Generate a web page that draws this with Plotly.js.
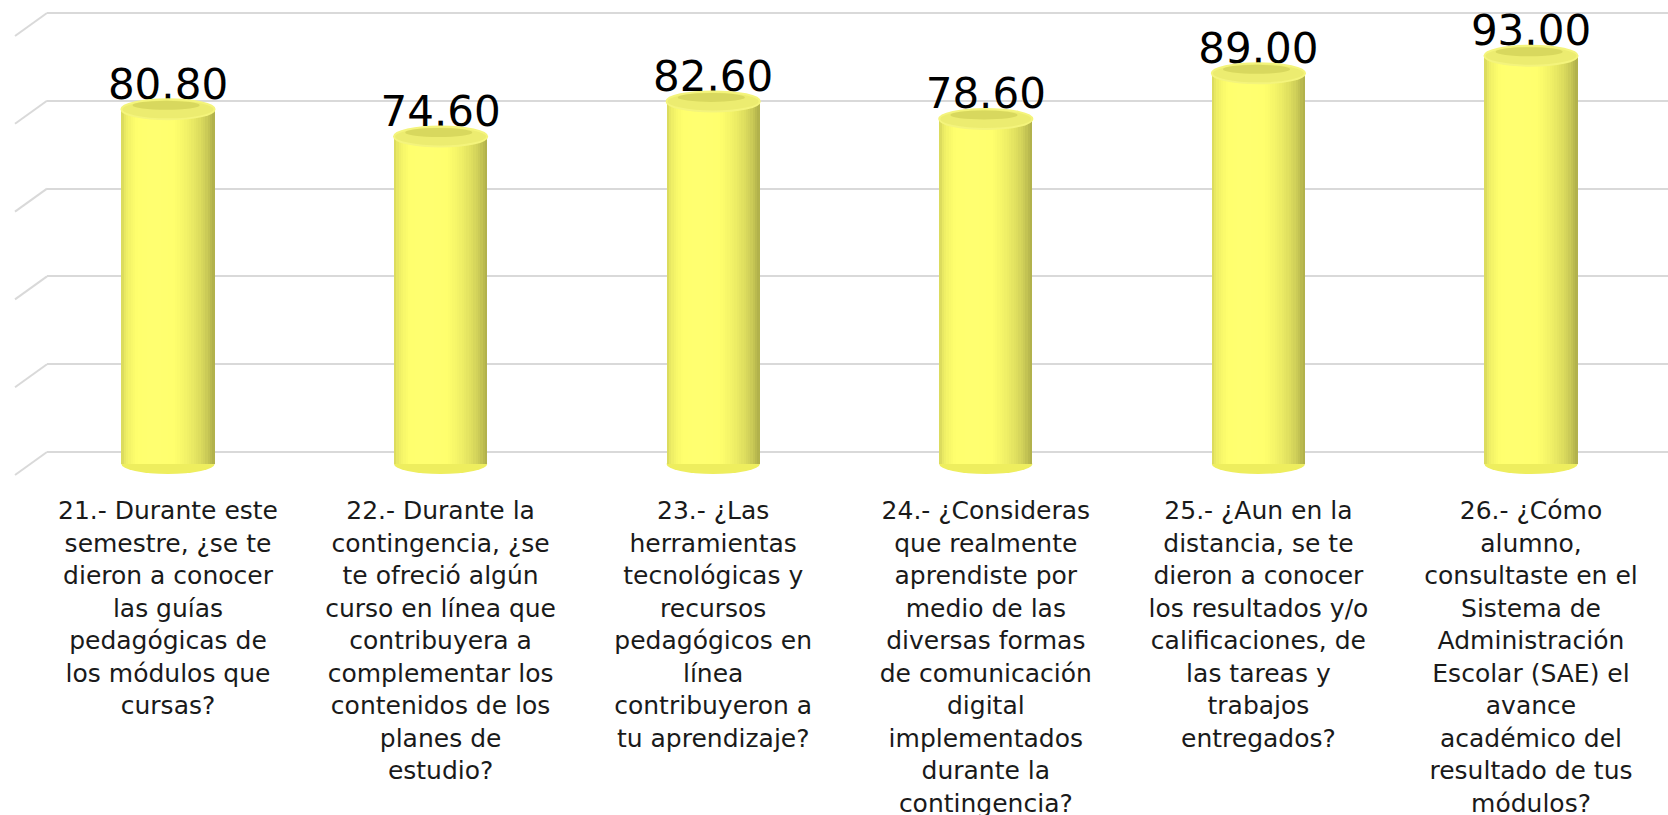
<!DOCTYPE html>
<html>
<head>
<meta charset="utf-8">
<script src="https://cdn.plot.ly/plotly-3.0.1.min.js"></script>
<style>
  html, body { margin: 0; padding: 0; background: #ffffff; }
  #chart { width: 1668px; height: 815px; }
</style>
</head>
<body>
<div id="chart"></div>
<script>
// ---- data ----
const questionLabels = [
  "21.- Durante este<br>semestre, ¿se te<br>dieron a conocer<br>las guías<br>pedagógicas de<br>los módulos que<br>cursas?",
  "22.- Durante la<br>contingencia, ¿se<br>te ofreció algún<br>curso en línea que<br>contribuyera a<br>complementar los<br>contenidos de los<br>planes de<br>estudio?",
  "23.- ¿Las<br>herramientas<br>tecnológicas y<br>recursos<br>pedagógicos en<br>línea<br>contribuyeron a<br>tu aprendizaje?",
  "24.- ¿Consideras<br>que realmente<br>aprendiste por<br>medio de las<br>diversas formas<br>de comunicación<br>digital<br>implementados<br>durante la<br>contingencia?",
  "25.- ¿Aun en la<br>distancia, se te<br>dieron a conocer<br>los resultados y/o<br>calificaciones, de<br>las tareas y<br>trabajos<br>entregados?",
  "26.- ¿Cómo<br>alumno,<br>consultaste en el<br>Sistema de<br>Administración<br>Escolar (SAE) el<br>avance<br>académico del<br>resultado de tus<br>módulos?"
];
const scores = [80.80, 74.60, 82.60, 78.60, 89.00, 93.00];
const gridValues = [0, 20, 40, 60, 80, 100];

// ---- geometry / style constants ----
const W = 1668, H = 815;
const plotBottom = 493;      // px from top where plot area ends
const ppu = 4.39;            // pixels per value unit
const barFloor = 464;        // px of value 0 for the cylinders (front)
const gridFloor = 452;       // px of value 0 for the back wall
const xLeftPx = 47;          // back wall starts here
const firstCenter = 168, spacing = 272.6;
const barW = 0.342;          // in category units
const capH = 10 / ppu;       // half height of ellipse caps (value units)
const depthPx = 23, depthXpx = 32;

const idx = scores.map((_, i) => i);
const yRange = [-(plotBottom - barFloor) / ppu, barFloor / ppu];
const y2Range = [-(plotBottom - gridFloor) / ppu, gridFloor / ppu];
const xRange = [(xLeftPx - firstCenter) / spacing, (W - firstCenter) / spacing];

// cylinder shading stripes
const N = 40;
const traces = [];
for (let s = 0; s < N; s++) {
  const t = (s + 0.5) / N;
  const a = Math.asin(2 * t - 1);
  const f = 0.68 + 0.32 * Math.max(0, Math.cos(a + 0.3));
  const r = Math.round(Math.min(255, 262 * f));
  const g = Math.round(Math.min(255, 262 * f));
  const b = Math.round(Math.min(255, 112 * f));
  const stripeW = barW / N;
  traces.push({
    type: 'bar', x: idx, y: scores,
    width: s < N - 1 ? stripeW * 1.6 : stripeW,
    offset: -barW / 2 + s * stripeW,
    marker: { color: `rgb(${r},${g},${b})`, line: { width: 0 } },
    hoverinfo: 'skip', showlegend: false
  });
}
// value labels
traces.push({
  type: 'scatter', mode: 'text', x: idx, y: scores,
  text: scores.map(v => v.toFixed(2)),
  textposition: 'top center',
  textfont: { family: 'DejaVu Sans', size: 42, color: '#000000' },
  hoverinfo: 'skip', showlegend: false, cliponaxis: false
});
// invisible trace to carry the back-wall axis
traces.push({
  type: 'scatter', mode: 'markers', x: idx, y: scores, yaxis: 'y2',
  marker: { opacity: 0 }, hoverinfo: 'skip', showlegend: false
});

const shapes = [];
// back wall floor diagonals
gridValues.forEach(v => {
  shapes.push({
    type: 'line', xref: 'paper', yref: 'y2', layer: 'below',
    x0: (xLeftPx - depthXpx) / W, y0: v - depthPx / ppu,
    x1: xLeftPx / W, y1: v,
    line: { color: '#d9d9d9', width: 2 }
  });
});
// cylinder caps
scores.forEach((v, i) => {
  shapes.push({
    type: 'circle', xref: 'x', yref: 'y', layer: 'between',
    x0: i - barW / 2, x1: i + barW / 2, y0: -capH, y1: capH,
    fillcolor: '#eeee5e', line: { width: 0 }
  });
  shapes.push({
    type: 'circle', xref: 'x', yref: 'y', layer: 'above',
    x0: i - barW / 2, x1: i + barW / 2, y0: v - capH, y1: v + capH,
    fillcolor: '#ecec70', line: { color: '#f4f47c', width: 2 }
  });
  shapes.push({
    type: 'circle', xref: 'x', yref: 'y', layer: 'above',
    x0: i - barW * 0.38, x1: i + barW * 0.34, y0: v - capH * 0.05, y1: v + capH * 0.85,
    fillcolor: '#d8d85e', line: { width: 0 }
  });
});

const layout = {
  width: W, height: H,
  margin: { l: 0, r: 0, t: 0, b: H - plotBottom, pad: 0 },
  paper_bgcolor: '#ffffff', plot_bgcolor: 'rgba(0,0,0,0)',
  barmode: 'overlay', bargap: 0,
  showlegend: false, hovermode: false,
  font: { family: 'DejaVu Sans', color: '#000000' },
  xaxis: {
    domain: [xLeftPx / W, 1], range: xRange, type: 'linear',
    tickmode: 'array', tickvals: idx, ticktext: questionLabels,
    tickangle: 0, ticks: '', showgrid: false, zeroline: false, showline: false,
    tickfont: { family: 'DejaVu Sans', size: 25, color: '#1a1a1a' },
    automargin: false, fixedrange: true
  },
  yaxis: {
    range: yRange, visible: false, showgrid: false, zeroline: false, fixedrange: true
  },
  yaxis2: {
    range: y2Range, overlaying: 'y', side: 'left',
    tickmode: 'array', tickvals: gridValues, showticklabels: false, ticks: '',
    showgrid: true, gridcolor: '#d9d9d9', gridwidth: 2,
    zeroline: false, showline: false, fixedrange: true
  },
  shapes: shapes
};

Plotly.newPlot('chart', traces, layout, { displayModeBar: false, staticPlot: true });
</script>
</body>
</html>
